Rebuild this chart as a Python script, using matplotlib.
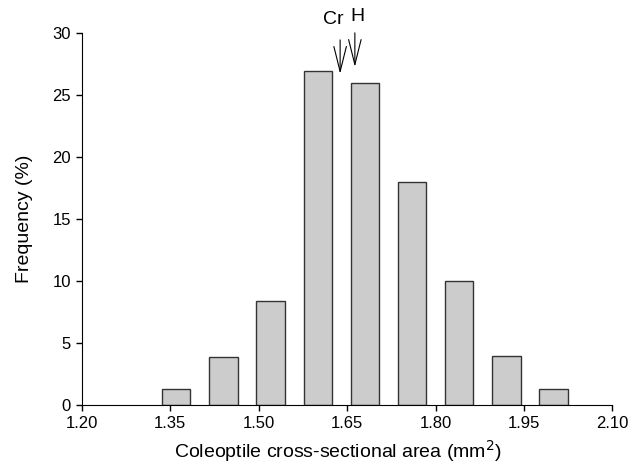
import matplotlib
matplotlib.use("Agg")
from matplotlib import pyplot as plt

plt.rcParams['font.family'] = ['Liberation Sans', 'DejaVu Sans']

# bin centres (mm^2) and frequency (%)
area = [1.36, 1.44, 1.52, 1.60, 1.68, 1.76, 1.84, 1.92, 2.00]
freq = [1.3, 3.9, 8.4, 27, 26, 18, 10, 4.0, 1.3]

# cultivar means marked with arrows
marks = ['Cr', 'H']
mark_x = [1.638, 1.663]

xticks = [1.20, 1.35, 1.50, 1.65, 1.80, 1.95, 2.10]
yticks = [0, 5, 10, 15, 20, 25, 30]

fig = plt.figure(figsize=(6.4, 4.71), dpi=100)
ax = fig.add_axes([0.128, 0.140, 0.829, 0.789])

ax.bar(area, freq, width=0.048, color='#cccccc', edgecolor='#333333', linewidth=1.0, zorder=2)

ax.set_xlim(1.20, 2.10)
ax.set_ylim(0, 30)
ax.set_xticks(xticks)
ax.set_xticklabels(['%.2f' % t for t in xticks])
ax.set_yticks(yticks)

for s in ['top', 'right']:
    ax.spines[s].set_visible(False)
ax.tick_params(direction='out', length=4, width=1, labelsize=12, colors='black', pad=4)

ax.set_xlabel('Coleoptile cross-sectional area (mm$^2$)', fontsize=14, labelpad=5)
ax.xaxis.label.set_x(0.482)
ax.set_ylabel('Frequency (%)', fontsize=14, labelpad=14)

# arrows with labels
tip_y = [26.74, 27.3]
top_y = [29.48, 30.05]
text_x = [1.626, 1.668]
text_y = [30.4, 30.7]
for name, x, ty, tp, tx, txy in zip(marks, mark_x, tip_y, top_y, text_x, text_y):
    ax.annotate('', xy=(x, ty), xytext=(x, tp), annotation_clip=False,
                arrowprops=dict(arrowstyle='->,head_length=1.8,head_width=0.45',
                                color='black', lw=0.8, shrinkA=0, shrinkB=0))
    ax.text(tx, txy, name, ha='center', va='bottom', fontsize=14, clip_on=False)

fig.savefig('out.png', dpi=100)
